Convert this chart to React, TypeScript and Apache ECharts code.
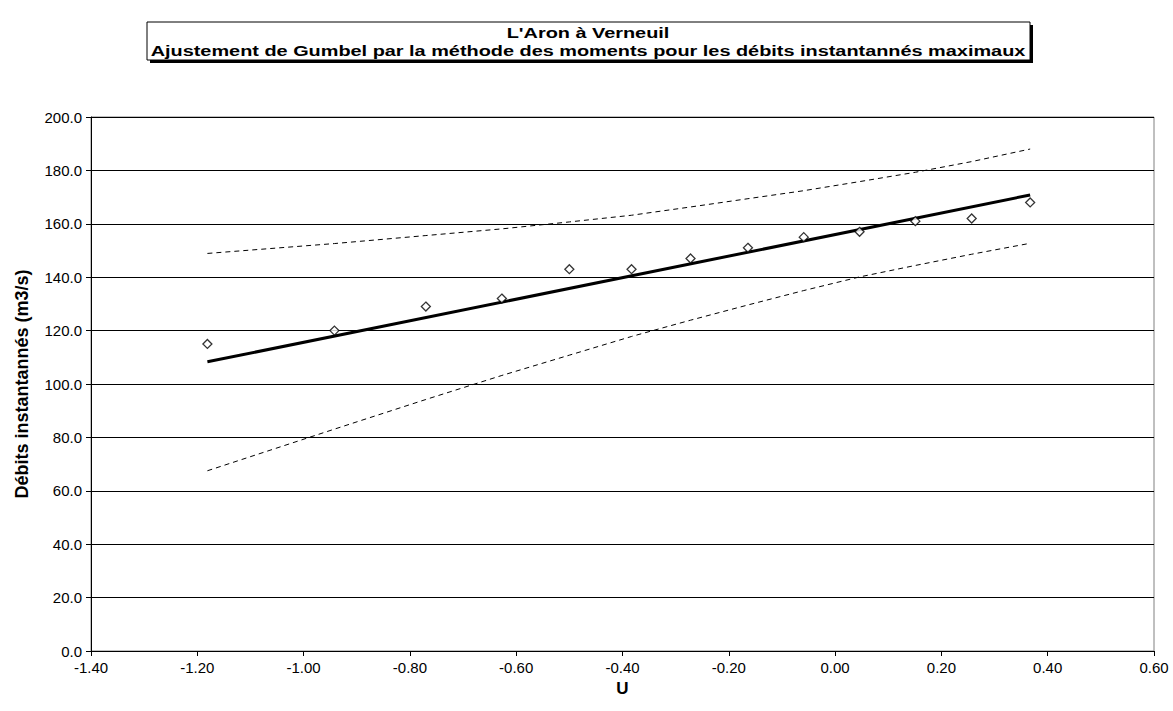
import React, { useEffect, useRef } from "react";
import * as echarts from "echarts";

const titleLine1 = "L'Aron à Verneuil";
const titleLine2 = "Ajustement de Gumbel par la méthode des moments pour les débits instantannés maximaux";
const xAxisName = "U";
const yAxisName = "Débits instantannés (m3/s)";

// Gumbel reduced variable of each observation
const uValues = [-1.181, -0.942, -0.77, -0.627, -0.5, -0.383, -0.272, -0.164, -0.059, 0.046, 0.151, 0.257, 0.367];
// observed maximal instantaneous flows
const observed = [115, 120, 129, 132, 143, 143, 147, 151, 155, 157, 161, 162, 168];
// fitted Gumbel line (ends)
const fitU = [-1.181, 0.367];
const fitQ = [108.3, 170.8];
// confidence bounds
const upperBound = [148.9, 152.6, 155.6, 158.1, 160.7, 163.2, 166.3, 169.4, 172.4, 175.8, 179.3, 183.3, 188.0];
const lowerBound = [67.5, 83.1, 94.2, 103.2, 110.8, 117.8, 123.9, 129.6, 135.0, 140.1, 144.4, 148.6, 152.7];

const FONT = "'Liberation Sans', Arial, sans-serif";

export default function App() {
  const ref = useRef<HTMLDivElement>(null);
  useEffect(() => {
    if (!ref.current) return;
    const chart = echarts.init(ref.current, null, { renderer: "svg" });
    const zip = (xs: number[], ys: number[]) => xs.map((x, i) => [x, ys[i]]);
    const titleStyle = { fontFamily: FONT, fontSize: 14, fontWeight: "bold", fill: "#000", align: "center", verticalAlign: "middle" };
    chart.setOption({
      animation: false,
      backgroundColor: "#ffffff",
      textStyle: { fontFamily: FONT },
      grid: {
        left: 91,
        top: 117,
        width: 1063,
        height: 534,
        show: true,
        borderColor: "#808080",
        borderWidth: 1,
      },
      xAxis: {
        type: "value",
        min: -1.4,
        max: 0.6,
        interval: 0.2,
        name: xAxisName,
        nameLocation: "middle",
        nameGap: 28,
        nameTextStyle: { fontFamily: FONT, fontSize: 17, fontWeight: "bold", color: "#000" },
        axisLine: { show: true, onZero: false, lineStyle: { color: "#000", width: 1 } },
        axisTick: { show: true, inside: false, length: 5, lineStyle: { color: "#000" } },
        axisLabel: {
          fontFamily: FONT,
          fontSize: 15,
          color: "#000",
          margin: 9,
          formatter: (v: number) => v.toFixed(2),
        },
        splitLine: { show: false },
      },
      yAxis: {
        type: "value",
        min: 0,
        max: 200,
        interval: 20,
        name: yAxisName,
        nameLocation: "middle",
        nameGap: 60,
        nameTextStyle: { fontFamily: FONT, fontSize: 18, fontWeight: "bold", color: "#000" },
        axisLine: { show: true, onZero: false, lineStyle: { color: "#000", width: 1 } },
        axisTick: { show: true, inside: false, length: 5, lineStyle: { color: "#000" } },
        axisLabel: {
          fontFamily: FONT,
          fontSize: 15,
          color: "#000",
          margin: 9,
          formatter: (v: number) => v.toFixed(1),
        },
        splitLine: { show: true, lineStyle: { color: "#000", width: 1 } },
      },
      graphic: [
        { type: "rect", shape: { x: 150, y: 25, width: 883, height: 38 }, style: { fill: "#000" } },
        { type: "rect", shape: { x: 147, y: 22, width: 883, height: 38 }, style: { fill: "#fff", stroke: "#000", lineWidth: 1 } },
        { type: "text", x: 588, y: 33, scaleX: 1.42, style: { ...titleStyle, text: titleLine1 } },
        { type: "text", x: 588, y: 51, scaleX: 1.42, style: { ...titleStyle, text: titleLine2 } },
      ],
      series: [
        {
          name: "Borne supérieure",
          type: "line",
          data: zip(uValues, upperBound),
          showSymbol: false,
          symbol: "none",
          lineStyle: { color: "#000", width: 1, type: [5, 4] },
          z: 2,
        },
        {
          name: "Borne inférieure",
          type: "line",
          data: zip(uValues, lowerBound),
          showSymbol: false,
          symbol: "none",
          lineStyle: { color: "#000", width: 1, type: [5, 4] },
          z: 2,
        },
        {
          name: "Ajustement",
          type: "line",
          data: zip(fitU, fitQ),
          showSymbol: false,
          symbol: "none",
          lineStyle: { color: "#000", width: 3 },
          z: 3,
        },
        {
          name: "Observations",
          type: "scatter",
          data: zip(uValues, observed),
          symbol: "diamond",
          symbolSize: 9,
          itemStyle: { color: "#fff", borderColor: "#000", borderWidth: 1.3 },
          z: 4,
        },
      ],
    });
    return () => chart.dispose();
  }, []);
  return <div ref={ref} style={{ position: "absolute", left: 0, top: 0, width: 1173, height: 711 }} />;
}
